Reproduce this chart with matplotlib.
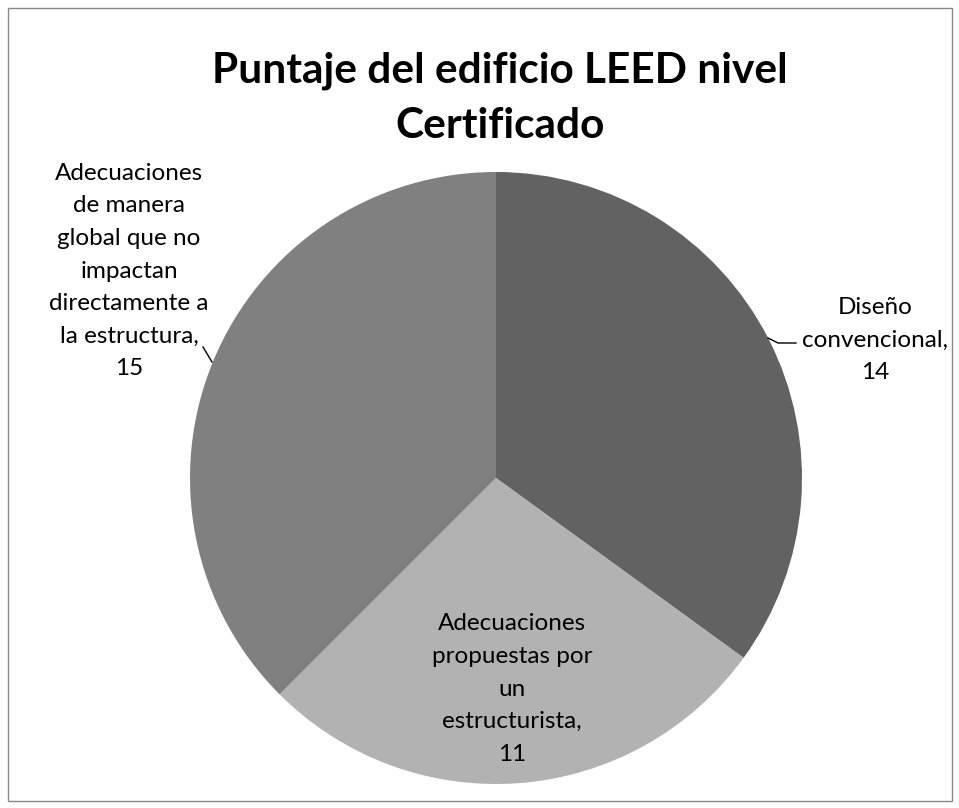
import matplotlib
matplotlib.use("Agg")
import matplotlib.pyplot as plt
from matplotlib.patches import Rectangle

# data
labels = ["Diseño\nconvencional,\n14",
          "Adecuaciones\npropuestas por\nun\nestructurista,\n11",
          "Adecuaciones\nde manera\nglobal que no\nimpactan\ndirectamente a\nla estructura,\n15"]
values = [14, 11, 15]
colors = ["#626262", "#b2b2b2", "#808080"]
title_lines = ["Puntaje del edificio LEED nivel", "Certificado"]

plt.rcParams["font.family"] = ["Lato", "DejaVu Sans"]

W, H = 959, 808
fig = plt.figure(figsize=(W / 100, H / 100), dpi=100)

# pie centre and radius in pixels
cx, cy, r = 496, 478, 306
ax = fig.add_axes([(cx - r) / W, (H - cy - r) / H, 2 * r / W, 2 * r / H])
ax.pie(values, colors=colors, startangle=90, counterclock=False,
       wedgeprops=dict(linewidth=0))
ax.set_xlim(-1, 1)
ax.set_ylim(-1, 1)
ax.set_aspect("equal")
ax.axis("off")

def px(x, y):
    return (x - cx) / r, (cy - y) / r

# data labels (centre of each text block, in pixels)
lab_pos = [(875, 340), (512, 689), (129, 271)]
for text, (x, y) in zip(labels, lab_pos):
    ax.text(*px(x, y), text, ha="center", va="center", fontsize=17.5,
            linespacing=1.68, clip_on=False)

# leader lines
l1 = [px(768, 338), px(778, 343), px(796, 343)]
ax.plot([p[0] for p in l1], [p[1] for p in l1], color="black", lw=1, clip_on=False)
l3 = [px(212, 362), px(203, 347)]
ax.plot([p[0] for p in l3], [p[1] for p in l3], color="black", lw=1, clip_on=False)

# title, one text per line so each baseline can be placed
for line, base in zip(title_lines, [82, 138]):
    fig.text(500 / W, 1 - base / H, line, ha="center", va="baseline",
             fontsize=30.5, fontweight="bold")

# chart area border
fig.add_artist(Rectangle((8 / W, 7 / H), 944 / W, 793 / H, transform=fig.transFigure,
                         fill=False, edgecolor="#888888", lw=1))

fig.savefig("out.png", dpi=100)
